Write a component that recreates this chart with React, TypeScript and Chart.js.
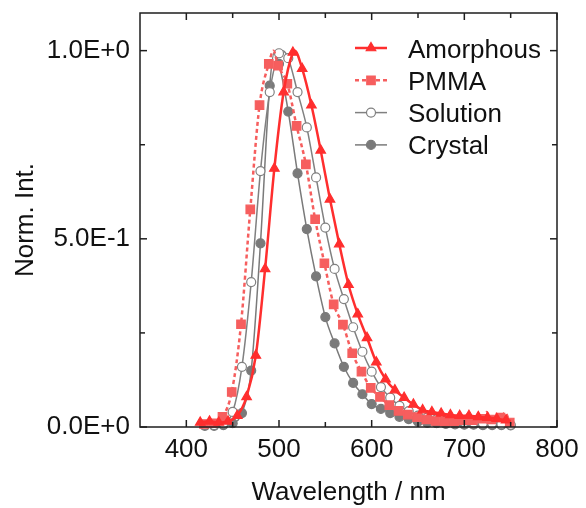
import React, { useEffect, useRef } from 'react';
import { Chart, registerables } from 'chart.js';

Chart.register(...registerables);

const FONT = "'Liberation Sans', Arial, sans-serif";

// ---- Data ----
const seriesNames = ['Amorphous', 'PMMA', 'Solution', 'Crystal'];

const amorphousX = [415, 425, 435, 445, 455, 465, 475, 485, 495, 505, 515, 517, 525, 535, 545, 555, 565, 575, 585, 595, 605, 615, 625, 635, 645, 655, 665, 675, 685, 695, 705, 715, 725, 735, 745, 750];
const amorphousY = [0.012, 0.015, 0.012, 0.015, 0.03, 0.08, 0.19, 0.42, 0.687, 0.89, 0.995, 1.0, 0.952, 0.855, 0.735, 0.605, 0.486, 0.378, 0.3, 0.237, 0.172, 0.127, 0.098, 0.078, 0.06, 0.045, 0.04, 0.036, 0.032, 0.03, 0.03, 0.027, 0.025, 0.022, 0.018, 0.016];

const pmmaX = [419, 429, 439, 449, 459, 469, 479, 489, 494, 499, 509, 519, 529, 539, 549, 559, 569, 579, 589, 599, 609, 619, 629, 639, 649, 659, 669, 679, 689, 699, 704, 709, 719, 724, 729, 739, 744, 749];
const pmmaY = [0.008, 0.01, 0.027, 0.093, 0.273, 0.578, 0.855, 0.965, 1.0, 0.96, 0.912, 0.8, 0.698, 0.552, 0.435, 0.326, 0.272, 0.196, 0.147, 0.104, 0.08, 0.058, 0.043, 0.033, 0.026, 0.02, 0.016, 0.014, 0.015, 0.018, 0.035, 0.018, 0.022, 0.04, 0.02, 0.025, 0.038, 0.012];

const solutionX = [420, 430, 440, 450, 460, 470, 480, 490, 500, 504, 510, 520, 530, 540, 550, 560, 570, 580, 590, 600, 610, 620, 630, 640, 650, 660, 670, 680, 690, 700, 710, 720, 730, 740, 750];
const solutionY = [0.005, 0.005, 0.01, 0.04, 0.16, 0.385, 0.68, 0.89, 0.993, 1.0, 0.98, 0.89, 0.796, 0.663, 0.53, 0.42, 0.34, 0.265, 0.2, 0.147, 0.106, 0.078, 0.056, 0.042, 0.03, 0.025, 0.02, 0.017, 0.015, 0.013, 0.012, 0.01, 0.01, 0.008, 0.006];

const crystalX = [420, 430, 440, 450, 460, 470, 480, 490, 495, 500, 510, 520, 530, 540, 550, 560, 570, 580, 590, 600, 610, 620, 630, 640, 650, 660, 670, 680, 690, 700, 710, 720, 730, 740, 750];
const crystalY = [0.003, 0.003, 0.005, 0.01, 0.037, 0.15, 0.488, 0.907, 0.995, 0.965, 0.838, 0.674, 0.526, 0.4, 0.292, 0.222, 0.16, 0.117, 0.087, 0.061, 0.048, 0.037, 0.027, 0.021, 0.014, 0.011, 0.01, 0.008, 0.007, 0.006, 0.006, 0.005, 0.005, 0.005, 0.004];

const xMajorTicks = [400, 500, 600, 700, 800];
const xMinorTicks = [450, 550, 650, 750];
const yMajorTicks = [0, 0.5, 1.0];
const yMinorTicks = [0.25, 0.75];
const yTickLabels = ['0.0E+0', '5.0E-1', '1.0E+0'];

const xTitle = 'Wavelength / nm';
const yTitle = 'Norm. Int.';

// ---- Styles ----
const styles = [
  { color: '#ff2e2e', width: 2.5, dash: [] as number[], marker: 'triangle', r: 5.5, fill: '#ff2e2e', markerEvery: 5 },
  { color: '#f65e5e', width: 2.5, dash: [4, 3], marker: 'rect', r: 6, fill: '#f65e5e', markerEvery: 9 },
  { color: '#808080', width: 1.5, dash: [] as number[], marker: 'circle', r: 4.5, fill: '#ffffff', markerEvery: 0 },
  { color: '#7a7a7a', width: 1.5, dash: [] as number[], marker: 'circle', r: 4.5, fill: '#7a7a7a', markerEvery: 0 },
];

const allX = [amorphousX, pmmaX, solutionX, crystalX];
const allY = [amorphousY, pmmaY, solutionY, crystalY];

function drawMarker(ctx: CanvasRenderingContext2D, kind: string, x: number, y: number, r: number, fill: string, stroke: string) {
  ctx.save();
  ctx.beginPath();
  if (kind === 'triangle') {
    ctx.moveTo(x, y - r);
    ctx.lineTo(x + Math.sin((2 * Math.PI) / 3) * r, y + r / 2);
    ctx.lineTo(x - Math.sin((2 * Math.PI) / 3) * r, y + r / 2);
    ctx.closePath();
  } else if (kind === 'rect') {
    const s = Math.SQRT1_2 * r;
    ctx.rect(x - s, y - s, 2 * s, 2 * s);
  } else {
    ctx.arc(x, y, r, 0, Math.PI * 2);
  }
  ctx.fillStyle = fill;
  ctx.fill();
  ctx.lineWidth = 1.2;
  ctx.strokeStyle = stroke;
  ctx.stroke();
  ctx.restore();
}

const framePlugin = {
  id: 'frameTicks',
  afterDatasetsDraw(chart: any) {
    const { ctx, chartArea, scales } = chart;
    const { left, right, top, bottom } = chartArea;
    const xs = scales.x;
    const ys = scales.y;
    ctx.save();
    ctx.strokeStyle = '#1e1e1e';
    ctx.lineWidth = 1.5;
    ctx.setLineDash([]);
    ctx.strokeRect(left, top, right - left, bottom - top);
    const tick = (x1: number, y1: number, x2: number, y2: number) => {
      ctx.beginPath();
      ctx.moveTo(x1, y1);
      ctx.lineTo(x2, y2);
      ctx.stroke();
    };
    xMajorTicks.forEach((v) => {
      const p = xs.getPixelForValue(v);
      tick(p, bottom, p, bottom - 7);
      tick(p, top, p, top + 7);
    });
    xMinorTicks.forEach((v) => {
      const p = xs.getPixelForValue(v);
      tick(p, bottom, p, bottom - 5);
      tick(p, top, p, top + 5);
    });
    yMajorTicks.forEach((v) => {
      const p = ys.getPixelForValue(v);
      tick(left, p, left + 7, p);
      tick(right, p, right - 7, p);
    });
    yMinorTicks.forEach((v) => {
      const p = ys.getPixelForValue(v);
      tick(left, p, left + 5, p);
      tick(right, p, right - 5, p);
    });
    ctx.restore();
  },
};

const legendPlugin = {
  id: 'customLegend',
  afterDraw(chart: any) {
    const { ctx } = chart;
    ctx.save();
    seriesNames.forEach((name, i) => {
      const st = styles[i];
      const cy = 48 + i * 32.3;
      ctx.beginPath();
      ctx.setLineDash(st.dash);
      ctx.strokeStyle = st.color;
      ctx.lineWidth = st.width;
      ctx.moveTo(355, cy);
      ctx.lineTo(387, cy);
      ctx.stroke();
      ctx.setLineDash([]);
      drawMarker(ctx, st.marker, 371, cy, st.r, st.fill, st.color);
      ctx.fillStyle = '#111111';
      ctx.font = `26px ${FONT}`;
      ctx.textAlign = 'left';
      ctx.textBaseline = 'alphabetic';
      ctx.fillText(name, 408, cy + 9.5);
    });
    ctx.restore();
  },
};

export default function App() {
  const canvasRef = useRef<HTMLCanvasElement | null>(null);

  useEffect(() => {
    if (!canvasRef.current) return;
    const datasets = seriesNames.map((name, i) => {
      const st = styles[i];
      return {
        label: name,
        data: allX[i].map((x, j) => ({ x, y: allY[i][j] })),
        borderColor: st.color,
        backgroundColor: st.fill,
        borderWidth: st.width,
        borderDash: st.dash,
        pointStyle: st.marker,
        pointBackgroundColor: st.fill,
        pointBorderColor: st.color,
        pointBorderWidth: 1.2,
        pointRadius: (c: any) => (c.raw && Math.round(c.raw.x) % 10 === st.markerEvery ? st.r : 0),
        pointHoverRadius: 0,
        cubicInterpolationMode: 'monotone' as const,
        fill: false,
        clip: false as any,
      };
    });

    const chart = new Chart(canvasRef.current, {
      type: 'line',
      data: { datasets },
      options: {
        responsive: false,
        animation: false,
        events: [],
        layout: { padding: { left: 0, right: 29, top: 13, bottom: 0 } },
        plugins: {
          legend: { display: false },
          tooltip: { enabled: false },
        },
        scales: {
          x: {
            type: 'linear',
            min: 350,
            max: 800,
            grid: { display: false, drawTicks: false },
            border: { display: false },
            afterBuildTicks: (scale: any) => {
              scale.ticks = xMajorTicks.map((v) => ({ value: v }));
            },
            afterFit: (scale: any) => {
              scale.height = 81;
              scale.paddingLeft = 0;
              scale.paddingRight = 0;
            },
            ticks: {
              padding: 7,
              color: '#111111',
              font: { family: FONT, size: 26 },
              maxRotation: 0,
              autoSkip: false,
              callback: (v: any) => String(v),
            },
            title: {
              display: true,
              text: xTitle,
              color: '#111111',
              font: { family: FONT, size: 26 },
              padding: { top: 0, bottom: 0 },
            },
          },
          y: {
            type: 'linear',
            min: 0,
            max: 1.1,
            grid: { display: false, drawTicks: false },
            border: { display: false },
            afterBuildTicks: (scale: any) => {
              scale.ticks = yMajorTicks.map((v) => ({ value: v }));
            },
            afterFit: (scale: any) => {
              scale.width = 140;
              scale.paddingTop = 0;
              scale.paddingBottom = 0;
            },
            ticks: {
              padding: 10,
              color: '#111111',
              font: { family: FONT, size: 26 },
              autoSkip: false,
              callback: (v: any) => {
                const idx = yMajorTicks.findIndex((t) => Math.abs(t - Number(v)) < 1e-9);
                return idx >= 0 ? yTickLabels[idx] : '';
              },
            },
            title: {
              display: true,
              text: yTitle,
              color: '#111111',
              font: { family: FONT, size: 26 },
              padding: { top: 10, bottom: 0 },
            },
          },
        },
      },
      plugins: [framePlugin, legendPlugin],
    });
    return () => chart.destroy();
  }, []);

  return (
    <div style={{ position: 'fixed', left: 0, top: 0, width: 586, height: 508, background: '#ffffff' }}>
      <canvas ref={canvasRef} width={586} height={508} />
    </div>
  );
}
